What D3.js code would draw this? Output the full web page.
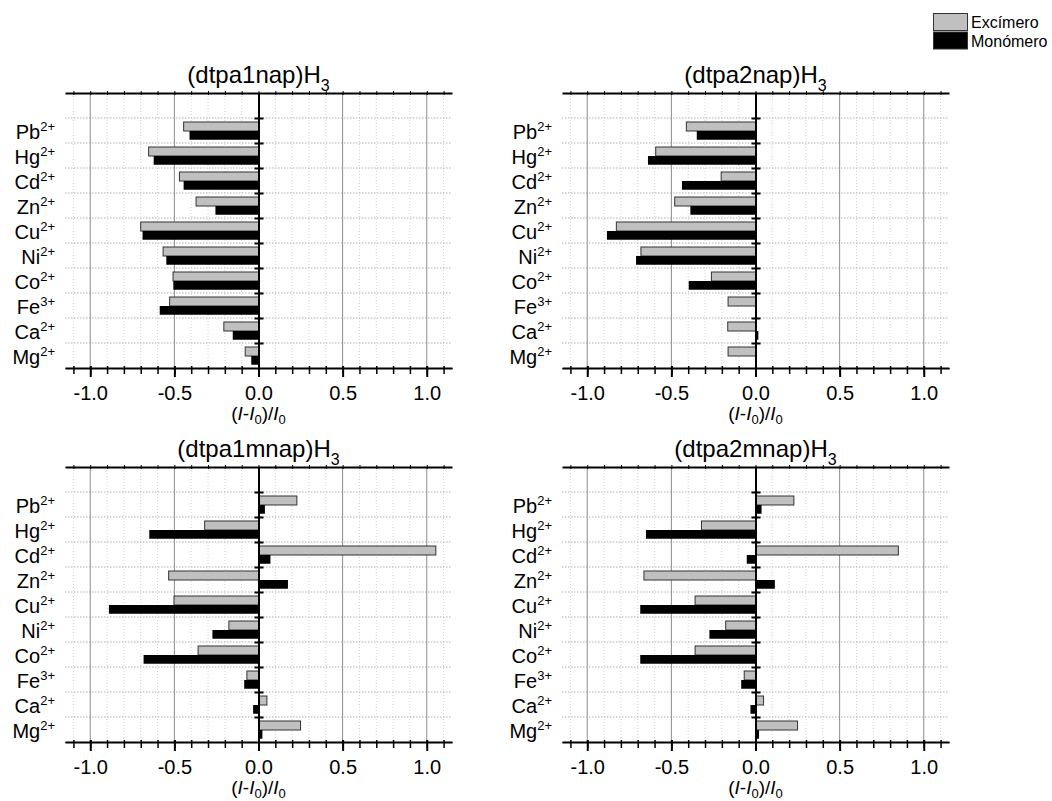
<!DOCTYPE html>
<html>
<head>
<meta charset="utf-8">
<script src="https://cdn.jsdelivr.net/npm/d3@7"></script>
<style>
  body { margin: 0; background: #fff; }
  svg { font-family: "Liberation Sans", Arial, sans-serif; }
</style>
</head>
<body>
<div id="chart"></div>
<script>
// ions, top to bottom
const ions = ["Pb", "Hg", "Cd", "Zn", "Cu", "Ni", "Co", "Fe", "Ca", "Mg"];
const charges = ["2+", "2+", "2+", "2+", "2+", "2+", "2+", "3+", "2+", "2+"];
const titles = ["(dtpa1nap)H", "(dtpa2nap)H", "(dtpa1mnap)H", "(dtpa2mnap)H"];
const seriesNames = ["Excímero", "Monómero"];

// (I-I0)/I0
const excimero1 = [-0.445, -0.653, -0.47, -0.371, -0.70, -0.567, -0.508, -0.528, -0.206, -0.079];
const monomero1 = [-0.41, -0.623, -0.445, -0.256, -0.689, -0.548, -0.506, -0.587, -0.153, -0.043];
const excimero2 = [-0.411, -0.593, -0.204, -0.48, -0.827, -0.681, -0.262, -0.163, -0.165, -0.163];
const monomero2 = [-0.349, -0.639, -0.437, -0.387, -0.883, -0.71, -0.397, 0.005, 0.017, 0.005];
const excimero3 = [0.228, -0.32, 1.054, -0.534, -0.502, -0.176, -0.359, -0.069, 0.05, 0.25];
const monomero3 = [0.038, -0.649, 0.071, 0.175, -0.889, -0.274, -0.683, -0.085, -0.032, 0.023];
const excimero4 = [0.228, -0.321, 0.849, -0.663, -0.359, -0.177, -0.359, -0.067, 0.048, 0.25];
const monomero4 = [0.036, -0.651, -0.052, 0.115, -0.685, -0.274, -0.685, -0.085, -0.03, 0.021];

const xTicks = [-1.0, -0.5, 0.0, 0.5, 1.0];
const xMinor = d3.range(-11, 12).map(d => d / 10);

const W = 1052, H = 801;
const pw = 387, ph = 275;

const svg = d3.select("#chart")
  .append("svg")
  .attr("width", W)
  .attr("height", H);

const panels = [
  { left: 65, top: 93, exc: excimero1, mono: monomero1, title: titles[0] },
  { left: 562, top: 93, exc: excimero2, mono: monomero2, title: titles[1] },
  { left: 65, top: 467, exc: excimero3, mono: monomero3, title: titles[2] },
  { left: 562, top: 467, exc: excimero4, mono: monomero4, title: titles[3] }
];

const x = d3.scaleLinear().domain([-1.15, 1.15]).range([0, pw]);
const y = d3.scaleLinear().domain([0.5, 11.5]).range([ph, 0]);
const pos = i => ions.length - i;

panels.forEach(p => {
  const g = svg.append("g").attr("transform", `translate(${p.left},${p.top})`);

  // minor vertical grid (dotted)
  g.selectAll(".vminor")
    .data(xMinor.filter(d => Math.abs(Math.round(d * 10)) % 5 !== 0))
    .join("line")
    .attr("x1", d => x(d)).attr("x2", d => x(d))
    .attr("y1", 0).attr("y2", ph)
    .attr("stroke", "#d4d4d4")
    .attr("stroke-dasharray", "1,2");

  // horizontal dotted grid between ions
  g.selectAll(".hgrid")
    .data(d3.range(1.5, 11, 1))
    .join("line")
    .attr("x1", 0).attr("x2", pw)
    .attr("y1", d => y(d)).attr("y2", d => y(d))
    .attr("stroke", "#b0b0b0")
    .attr("stroke-dasharray", "1.5,1.5");

  // major vertical grid
  g.selectAll(".vmajor")
    .data(xTicks.filter(d => d !== 0))
    .join("line")
    .attr("x1", d => x(d)).attr("x2", d => x(d))
    .attr("y1", 0).attr("y2", ph)
    .attr("stroke", "#8c8c8c")
    .attr("stroke-width", 1);

  // bars
  ions.forEach((ion, i) => {
    const c = pos(i);
    const ve = p.exc[i], vm = p.mono[i];
    g.append("rect")
      .attr("x", x(Math.min(0, ve)))
      .attr("width", Math.abs(x(ve) - x(0)))
      .attr("y", y(c + 0.34))
      .attr("height", y(c - 0.02) - y(c + 0.34))
      .attr("fill", "#c0c0c0")
      .attr("stroke", "#333")
      .attr("stroke-width", 1);
    g.append("rect")
      .attr("x", x(Math.min(0, vm)))
      .attr("width", Math.abs(x(vm) - x(0)))
      .attr("y", y(c - 0.02))
      .attr("height", y(c - 0.37) - y(c - 0.02))
      .attr("fill", "#000");
  });

  // bottom axis: minor ticks
  const minorAx = g.append("g")
    .attr("transform", `translate(0,${ph})`)
    .call(d3.axisBottom(x).tickValues(xMinor).tickSize(6).tickSizeOuter(0).tickFormat(""));
  minorAx.selectAll("line").attr("y1", -2).attr("stroke-width", 1.5);

  // bottom axis: major ticks and labels
  const majorAx = g.append("g")
    .attr("transform", `translate(0,${ph})`)
    .call(d3.axisBottom(x).tickValues(xTicks).tickSize(9).tickSizeOuter(0)
      .tickPadding(9).tickFormat(d => d.toFixed(1)));
  majorAx.select(".domain").attr("stroke-width", 2);
  majorAx.selectAll("line").attr("y1", -2).attr("stroke-width", 2);
  majorAx.selectAll("text")
    .attr("font-size", 20)
    .attr("font-family", "'Liberation Sans', Arial, sans-serif")
    .attr("fill", "#000");

  // top axis
  const topAx = g.append("g")
    .call(d3.axisTop(x).tickValues(xMinor).tickSize(2).tickSizeOuter(0).tickFormat(""));
  topAx.select(".domain").attr("stroke-width", 2);
  topAx.selectAll("line").attr("y1", 2).attr("stroke-width", 1);

  // zero line with category ticks
  const zeroAx = g.append("g")
    .attr("transform", `translate(${x(0)},0)`)
    .call(d3.axisLeft(y).tickValues(d3.range(1.5, 11, 1)).tickSize(4).tickSizeOuter(0).tickFormat(""));
  zeroAx.select(".domain").attr("stroke-width", 2);
  zeroAx.selectAll("line").attr("x1", 5).attr("stroke-width", 2);

  // ion labels
  ions.forEach((ion, i) => {
    const t = g.append("text")
      .attr("x", -10)
      .attr("y", y(pos(i)) + 8)
      .attr("text-anchor", "end")
      .attr("font-size", 20)
      .attr("fill", "#000");
    t.append("tspan").text(ion);
    t.append("tspan").attr("dy", -8).attr("font-size", 13).text(charges[i]);
  });

  // title
  const tt = g.append("text")
    .attr("x", pw / 2)
    .attr("y", -10)
    .attr("text-anchor", "middle")
    .attr("font-size", 24)
    .attr("fill", "#000");
  tt.append("tspan").text(p.title);
  tt.append("tspan").attr("dy", 8).attr("font-size", 16).text("3");

  // x label (I-I0)/I0
  const xl = g.append("text")
    .attr("x", pw / 2)
    .attr("y", ph + 52)
    .attr("text-anchor", "middle")
    .attr("font-size", 19)
    .attr("fill", "#000");
  xl.append("tspan").text("(");
  xl.append("tspan").attr("font-style", "italic").text("I");
  xl.append("tspan").text("-");
  xl.append("tspan").attr("font-style", "italic").text("I");
  xl.append("tspan").attr("dy", 4).attr("font-size", 13).text("0");
  xl.append("tspan").attr("dy", -4).text(")/");
  xl.append("tspan").attr("font-style", "italic").text("I");
  xl.append("tspan").attr("dy", 4).attr("font-size", 13).text("0");
});

// legend
const legend = svg.append("g").attr("transform", "translate(933,13)");
seriesNames.forEach((name, i) => {
  legend.append("rect")
    .attr("x", 0.5)
    .attr("y", i * 18.5 + 0.5)
    .attr("width", 34)
    .attr("height", 17)
    .attr("fill", i === 0 ? "#c0c0c0" : "#000")
    .attr("stroke", "#333")
    .attr("stroke-width", 1);
  legend.append("text")
    .attr("x", 38)
    .attr("y", i * 18.5 + 15)
    .attr("font-size", 16)
    .attr("fill", "#000")
    .text(name);
});
</script>
</body>
</html>
